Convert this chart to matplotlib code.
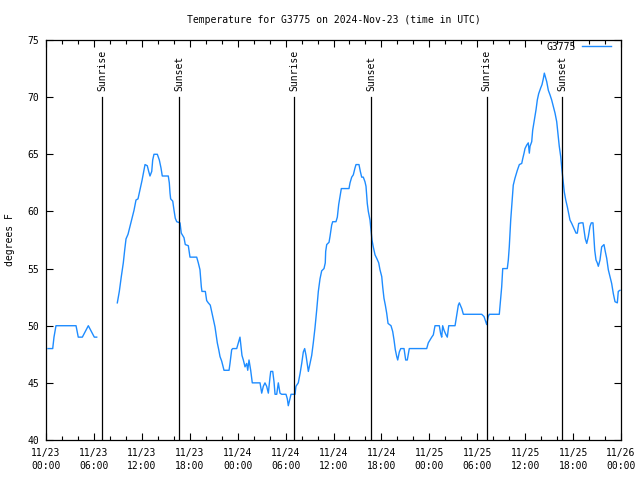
import numpy as np
import matplotlib
matplotlib.use("Agg")
import matplotlib.pyplot as plt
from matplotlib.ticker import MultipleLocator, FixedLocator

# hours since 2024-11-23 00:00 UTC ; NaN marks a data gap
hours = [0.25, 0.84, 1.0, 1.25, 3.76, 4.04, 4.55, 5.30, 6.05, 6.35, np.nan,
         8.93, 9.18, 9.43, 9.68, 9.85, 10.02, 10.27, 10.52, 10.77, 11.02, 11.27, 11.52, 11.77,
         12.02, 12.27, 12.40, 12.68, 12.86, 13.02, 13.24, 13.36, 13.52, 13.94, 14.19, 14.40,
         14.56, 15.31, 15.44, 15.53, 15.61, 15.87, 16.03, 16.19, 16.37, 16.78, 16.94, 17.28,
         17.44, 17.82, 18.03, 18.87, 19.07, 19.28, 19.45, 19.53, 19.95, 20.12, 20.32, 20.57,
         20.79, 20.95, 21.16, 21.29, 21.45, 21.63, 21.79, 22.00, 22.29, 22.92, 23.04, 23.25,
         23.38, 23.88, 24.08, 24.29, 24.42, 24.54, 24.71, 24.92, 25.13, 25.26, 25.42, 25.63,
         25.83, 26.80, 27.01, 27.21, 27.42, 27.63, 27.84, 28.05, 28.14, 28.39, 28.55, 28.68,
         28.89, 29.09, 29.30, 29.51, 30.05, 30.22, 30.34, 30.55, 30.68, 31.18, 31.30, 31.59,
         31.81, 32.02, 32.22, 32.39, 32.56, 32.72, 32.85, 33.06, 33.27, 33.47, 33.68, 33.90,
         34.10, 34.31, 34.52, 34.81, 34.97, 35.02, 35.15, 35.44, 35.56, 35.77, 35.90, 36.31,
         36.48, 36.65, 36.81, 36.98, 37.94, 38.07, 38.28, 38.48, 38.69, 38.82, 39.19, 39.36,
         39.53, 39.73, 39.94, 40.07, 40.23, 40.36, 40.57, 40.69, 40.82, 40.98, 41.20, 41.41,
         41.66, 41.82, 42.04, 42.16, 42.32, 42.49, 42.66, 42.83, 43.20, 43.41, 43.58, 43.74,
         43.92, 44.04, 44.24, 44.42, 44.83, 45.04, 45.24, 45.49, 47.67, 47.87, 48.08, 48.30,
         48.50, 48.71, 49.25, 49.42, 49.55, 49.67, 49.84, 50.09, 50.25, 50.43, 51.22, 51.43,
         51.63, 51.76, 52.06, 52.26, 54.56, 54.85, 55.06, 55.18, 55.38, 55.51, 56.76, 56.94,
         57.06, 57.19, 57.76, 57.89, 58.01, 58.19, 58.31, 58.44, 58.51, 58.72, 58.85, 59.02,
         59.27, 59.57, 59.69, 59.86, 59.98, 60.19, 60.39, 60.52, 60.61, 60.82, 60.94, 61.11,
         61.36, 61.52, 61.69, 61.94, 62.11, 62.27, 62.40, 62.52, 62.70, 62.90, 63.11, 63.32,
         63.52, 63.74, 63.95, 64.15, 64.27, 64.45, 64.61, 64.78, 64.90, 65.08, 65.28, 65.45,
         65.61, 65.83, 66.11, 66.37, 66.53, 66.70, 66.99, 67.24, 67.37, 67.53, 67.71, 67.91,
         68.12, 68.28, 68.49, 68.71, 68.87, 69.03, 69.16, 69.37, 69.58, 69.87, 70.03, 70.21,
         70.41, 70.62, 70.83, 71.04, 71.25, 71.54, 71.66, 71.87]

temps = [48, 48, 49, 50, 50, 49, 49, 50, 49, 49, np.nan,
         52, 53, 54.3, 55.5, 56.6, 57.6, 58, 58.7, 59.4, 60.1, 61, 61.1, 61.9,
         62.7, 63.6, 64.1, 64, 63.5, 63.1, 63.5, 64.5, 65, 65, 64.5, 63.8,
         63.1, 63.1, 62.5, 61.6, 61.1, 60.9, 60.1, 59.4, 59.1, 59, 58.1, 57.7,
         57.1, 57, 56, 56, 55.5, 54.9, 53.4, 53.0, 53, 52.2, 52, 51.8,
         51.1, 50.6, 49.9, 49.3, 48.5, 47.9, 47.3, 46.9, 46.1, 46.1, 46.7, 47.9,
         48, 48, 48.5, 49, 48.2, 47.4, 47, 46.4, 46.7, 46.1, 47, 46.1,
         45, 45, 44.1, 44.7, 45, 44.7, 44.1, 45.5, 46, 46, 45.1, 44,
         44, 45, 44.1, 44, 44, 43.6, 43, 43.6, 44, 44, 44.7, 45,
         45.8, 46.7, 47.7, 48, 47.4, 46.6, 46, 46.7, 47.4, 48.5, 49.8, 51.4,
         53.0, 54.1, 54.8, 55.0, 55.5, 56.5, 57.1, 57.3, 57.8, 58.8, 59.1, 59.1,
         59.5, 60.6, 61.3, 62.0, 62, 62.5, 63.0, 63.2, 63.8, 64.1, 64.1, 63.5,
         63.0, 63.0, 62.6, 62.2, 60.7, 60, 59.25, 58.4, 57.5, 56.9, 56.2, 55.9,
         55.5, 54.9, 54.3, 53.4, 52.4, 51.8, 51.1, 50.2, 50.0, 49.5, 48.75, 47.9,
         47.3, 47, 47.7, 48, 48, 47, 47, 48, 48, 48.5, 48.75, 49.0,
         49.2, 50, 50, 49.3, 49, 50, 49.6, 49.2, 49, 50, 50, 50.9,
         51.8, 52, 51.5, 51, 51, 50.8, 50.35, 50.1, 50.8, 51, 51, 52.5,
         53.4, 55.0, 55, 55.75, 56.9, 59.25, 60.4, 61.6, 62.3, 62.9, 63.2, 63.6,
         64.1, 64.2, 64.6, 65.1, 65.5, 65.8, 66.0, 65.1, 65.7, 66.1, 67.1, 67.85,
         68.9, 69.75, 70.3, 70.8, 71.1, 71.6, 72.1, 71.8, 71.35, 70.6, 70.2, 69.75,
         69.2, 68.6, 67.85, 66.5, 65.7, 64.8, 63.6, 62.5, 61.7, 61, 60.4, 59.8,
         59.25, 58.95, 58.5, 58.1, 58.1, 58.95, 59, 59, 58.4, 57.6, 57.2, 57.8,
         58.7, 59.0, 59.0, 56.6, 55.75, 55.5, 55.2, 55.75, 56.9, 57.1, 56.5, 55.9,
         54.9, 54.3, 53.7, 52.8, 52.1, 52.0, 53.0, 53.1]

sun_hours = [7.0, 16.7, 31.1, 40.7, 55.2, 64.6]
sun_labels = ["Sunrise", "Sunset", "Sunrise", "Sunset", "Sunrise", "Sunset"]

xtick_hours = [0, 6, 12, 18, 24, 30, 36, 42, 48, 54, 60, 66, 72]
xtick_labels = ["11/23\n00:00", "11/23\n06:00", "11/23\n12:00", "11/23\n18:00",
                "11/24\n00:00", "11/24\n06:00", "11/24\n12:00", "11/24\n18:00",
                "11/25\n00:00", "11/25\n06:00", "11/25\n12:00", "11/25\n18:00",
                "11/26\n00:00"]

plt.rcParams['font.family'] = ['DejaVu Sans Mono']
FS = 7

fig = plt.figure(figsize=(6.4, 4.8), dpi=100)
ax = fig.add_axes([46/640, 40/480, 575/640, 400/480])

ax.plot(hours, temps, color="#1E8CFF", lw=1.0, label="G3775")

for h, lab in zip(sun_hours, sun_labels):
    ax.plot([h, h], [40, 70], color="black", lw=0.9)
    ax.text(h, 70.5, lab, rotation=90, ha="center", va="bottom", fontsize=FS)

ax.set_xlim(0, 72)
ax.set_ylim(40, 75)
ax.xaxis.set_major_locator(FixedLocator(xtick_hours))
ax.set_xticklabels(xtick_labels, fontsize=FS, linespacing=1.3)
ax.xaxis.set_minor_locator(MultipleLocator(2))
ax.yaxis.set_major_locator(MultipleLocator(5))
ax.tick_params(axis="y", labelsize=FS)
ax.tick_params(which="both", direction="in", top=True, right=True, width=0.8)
ax.tick_params(which="major", length=5)
ax.tick_params(axis="x", which="major", pad=6)
ax.tick_params(axis="y", which="major", pad=5)
ax.tick_params(which="minor", length=3)
for s in ax.spines.values():
    s.set_linewidth(0.9)

ax.set_ylabel("degrees F", fontsize=FS, labelpad=9)
ax.set_title("Temperature for G3775 on 2024-Nov-23 (time in UTC)", fontsize=FS, pad=12)

ax.legend(loc="upper right", bbox_to_anchor=(0.99, 1.005), frameon=False, fontsize=FS,
          markerfirst=False, handlelength=3.0, borderaxespad=0.0, handletextpad=0.6)

fig.savefig("out.png", dpi=100)
